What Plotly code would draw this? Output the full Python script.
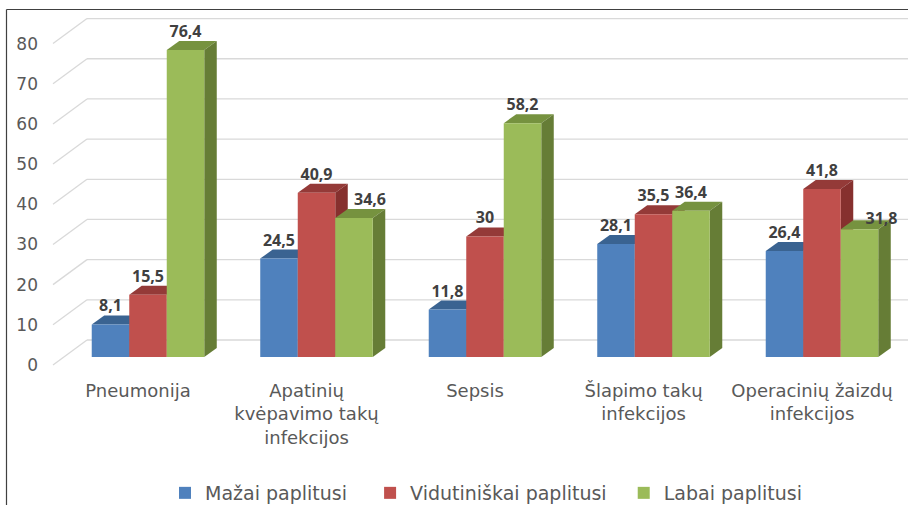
import plotly.graph_objects as go

categories = ["Pneumonija", "Apatinių<br>kvėpavimo takų<br>infekcijos", "Sepsis",
              "Šlapimo takų<br>infekcijos", "Operacinių žaizdų<br>infekcijos"]
series_names = ["Mažai paplitusi", "Vidutiniškai paplitusi", "Labai paplitusi"]
mazai = [8.1, 24.5, 11.8, 28.1, 26.4]
vidutiniskai = [15.5, 40.9, 30, 35.5, 41.8]
labai = [76.4, 34.6, 58.2, 36.4, 31.8]
y_ticks = [0, 10, 20, 30, 40, 50, 60, 70, 80]

series = [mazai, vidutiniskai, labai]
front_colors = ["#4F81BD", "#C0504D", "#9BBB59"]
top_colors = ["#3A6391", "#943A38", "#76923F"]
side_colors = ["#34577F", "#86302E", "#667D36"]

# pixel nudges for data labels that Excel moved to avoid overlaps: (series, category) -> (dx, dy)
label_nudges = {(2, 1): (16, 0), (2, 4): (22, -8)}

W, H = 908, 505
ml, mr, mt, mb = 53, 0, 12, 133
plot_w = W - ml - mr
plot_h = H - mt - mb
px_cat = 168.5
x0c = 148  # pixel of category 0 center
xmin = (ml - x0c) / px_cat
xmax = xmin + plot_w / px_cat
px_unit = 4.018
zero_px = 357
ymax = (zero_px - mt) / px_unit
ymin = (zero_px - (H - mb)) / px_unit

bw = 0.2226
group_off = -1.5 * bw
ddx = 12.5 / px_cat
ddy = 9.0 / px_unit
back_shift = 17 / px_unit
front_shift = -8 / px_unit
diag_paper = (87 - ml) / plot_w

xs = list(range(len(categories)))
fig = go.Figure()
shapes = []

# back wall gridlines and diagonal side-wall lines
for v in y_ticks:
    shapes.append(dict(type="line", xref="paper", yref="y", x0=diag_paper, x1=1.0,
                       y0=v + back_shift, y1=v + back_shift, layer="below",
                       line=dict(color="#D9D9D9", width=1.3)))
    shapes.append(dict(type="line", xref="paper", yref="y", x0=0, x1=diag_paper,
                       y0=v + front_shift, y1=v + back_shift, layer="below",
                       line=dict(color="#D9D9D9", width=1.3)))

legend_names = [series_names[0] + "\u00a0\u00a0\u00a0", series_names[1] + "\u00a0\u00a0", series_names[2]]

lab_x, lab_y, lab_t = [], [], []
for k, vals in enumerate(series):
    off = group_off + k * bw
    fig.add_trace(go.Bar(
        x=xs, y=vals, name=legend_names[k], width=bw, offset=off,
        marker=dict(color=front_colors[k], line=dict(width=0)),
        hovertemplate=series_names[k] + ": %{y}<extra></extra>"))
    for i, v in enumerate(vals):
        xl = i + off
        xr = xl + bw
        # top face
        shapes.append(dict(type="path", xref="x", yref="y", layer="below",
                           path=f"M {xl},{v} L {xr},{v} L {xr+ddx},{v+ddy} L {xl+ddx},{v+ddy} Z",
                           fillcolor=top_colors[k], line=dict(width=0)))
        # side face
        shapes.append(dict(type="path", xref="x", yref="y", layer="below",
                           path=f"M {xr},0 L {xr},{v} L {xr+ddx},{v+ddy} L {xr+ddx},{ddy} Z",
                           fillcolor=side_colors[k], line=dict(width=0)))
        ndx, ndy = label_nudges.get((k, i), (0, 0))
        lab_x.append(xl + bw / 2 + ndx / px_cat)
        lab_y.append(v + ddy + ndy / px_unit)
        lab_t.append(f"{v:g}".replace(".", ","))

fig.add_trace(go.Scatter(
    x=lab_x, y=lab_y, text=lab_t, mode="text", textposition="top center",
    textfont=dict(family="Open Sans", size=16, color="#404040", weight="bold"),
    showlegend=False, hoverinfo="skip", cliponaxis=False))

# outer frame (top and left edges)
fy = (H - mb - 9.5) / plot_h
fx = (6.5 - ml) / plot_w
shapes.append(dict(type="line", xref="paper", yref="paper", x0=fx, x1=1.01, y0=fy, y1=fy,
                   line=dict(color="#404040", width=1.2)))
shapes.append(dict(type="line", xref="paper", yref="paper", x0=fx, x1=fx, y0=fy, y1=-0.5,
                   line=dict(color="#404040", width=1.2)))

fig.update_layout(
    width=W, height=H,
    margin=dict(l=ml, r=mr, t=mt, b=mb),
    paper_bgcolor="white", plot_bgcolor="white",
    barmode="overlay",
    shapes=shapes,
    showlegend=True,
    legend=dict(orientation="h", x=486 / W, xanchor="center", xref="container",
                y=(H - 493) / H, yref="container", yanchor="middle",
                font=dict(family="DejaVu Sans", size=19, color="#595959"),
                itemwidth=30, traceorder="normal"),
    xaxis=dict(range=[xmin, xmax], tickmode="array", tickvals=xs, ticktext=categories,
               showgrid=False, zeroline=False, showline=False, ticks="",
               ticklabelstandoff=6, ticklabelshift=-10,
               tickfont=dict(family="DejaVu Sans", size=18, color="#595959")),
    yaxis=dict(range=[ymin, ymax], tickmode="array",
               tickvals=[v + front_shift for v in y_ticks], ticktext=[str(v) for v in y_ticks],
               showgrid=False, zeroline=False, showline=False, ticks="",
               ticklabelstandoff=14,
               tickfont=dict(family="DejaVu Sans", size=17, color="#595959")),
)

fig.write_html("out.html", config={"displayModeBar": False},
               post_script="document.body.style.margin='0';document.body.style.overflow='hidden';")
